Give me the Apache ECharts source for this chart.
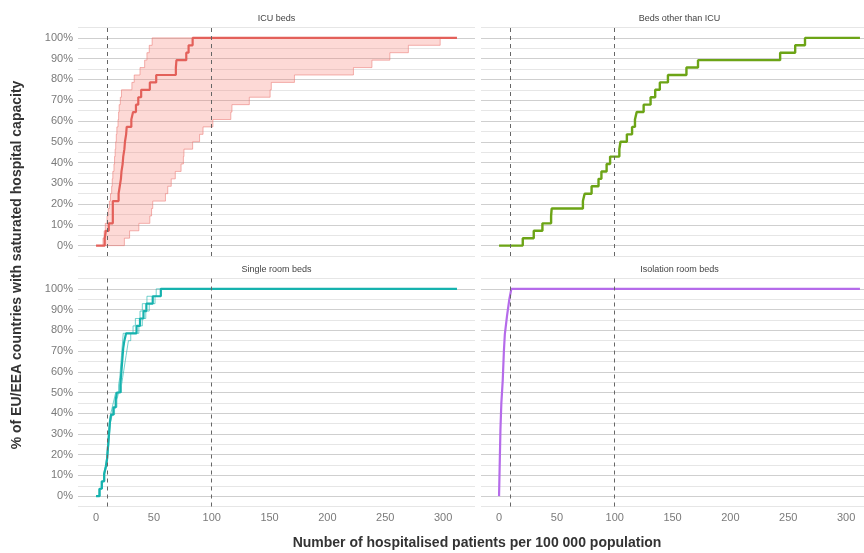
<!DOCTYPE html>
<html>
<head>
<meta charset="utf-8">
<script src="https://cdn.jsdelivr.net/npm/echarts@6/dist/echarts.min.js"></script>
<style>
html,body{margin:0;padding:0;background:#fff;}
#chart{width:864px;height:553px;}
</style>
</head>
<body>
<div id="chart"></div>
<script>
// ---------- data ----------
const panelTitles = ['ICU beds', 'Beds other than ICU', 'Single room beds', 'Isolation room beds'];
const xTickValues = [0, 50, 100, 150, 200, 250, 300];
const yTickValues = [0, 10, 20, 30, 40, 50, 60, 70, 80, 90, 100];
const refLines = [10, 100];

// ICU beds: central estimate (x = patients per 100 000, y = % of countries)
const icuX = [0, 7.5, 8.5, 11, 14.5, 14.5, 14.5, 19.5, 20.5, 21.5, 22, 23, 23.5, 24.5, 25, 26, 26.5, 30.5, 32, 34.5, 36.5, 39, 46.5, 52, 69, 69.5, 78, 80, 83.5, 312];
const icuY = [0, 3.57, 7.14, 10.71, 14.29, 17.86, 21.43, 25, 28.57, 32.14, 35.71, 39.29, 42.86, 46.43, 50, 53.57, 57.14, 60.71, 64.29, 67.86, 71.43, 75, 78.57, 82.14, 85.71, 89.29, 92.86, 96.43, 100, 100];
// ICU beds: uncertainty band, upper (left) edge
const icuUpperX = [5, 6, 7, 8, 9.5, 10.5, 11.5, 12.5, 13.5, 14, 14.5, 15.5, 16, 16.5, 17, 17.5, 18, 19, 19.5, 20, 21, 22, 31, 33, 38, 42, 44, 46, 48.5, 312];
const icuUpperY = [0, 3.57, 7.14, 10.71, 14.29, 17.86, 21.43, 25, 28.57, 32.14, 35.71, 39.29, 42.86, 46.43, 50, 53.57, 57.14, 60.71, 64.29, 67.86, 71.43, 75, 78.57, 82.14, 85.71, 89.29, 92.86, 96.43, 100, 100];
// ICU beds: uncertainty band, lower (right) edge
const icuLowerX = [5, 24.5, 29, 37, 46.5, 48, 49, 60, 62, 65, 68.5, 73.5, 75.5, 76, 83.5, 89.5, 92.5, 101, 116.5, 117.5, 132.5, 150.5, 151.5, 171.5, 222.5, 238.5, 254, 270, 297.5, 312];
const icuLowerY = [0, 3.57, 7.14, 10.71, 14.29, 17.86, 21.43, 25, 28.57, 32.14, 35.71, 39.29, 42.86, 46.43, 50, 53.57, 57.14, 60.71, 64.29, 67.86, 71.43, 75, 78.57, 82.14, 85.71, 89.29, 92.86, 96.43, 100, 100];

// Beds other than ICU
const otherX = [0, 20.5, 30, 37.5, 45, 45.5, 72.5, 74, 80, 86, 88.5, 93, 96, 104, 105, 110.5, 115, 117.5, 119, 125, 131, 135, 139, 146, 162, 172, 243, 256, 264.5, 312];
const otherY = [0, 3.57, 7.14, 10.71, 14.29, 17.86, 21.43, 25, 28.57, 32.14, 35.71, 39.29, 42.86, 46.43, 50, 53.57, 57.14, 60.71, 64.29, 67.86, 71.43, 75, 78.57, 82.14, 85.71, 89.29, 92.86, 96.43, 100, 100];

// Single room beds: central estimate and two thin variants
const singleX = [0, 3, 5, 7, 8.5, 9.5, 10, 10.5, 11, 11.5, 12, 13, 15, 17, 18, 21, 21.5, 22, 22.5, 23, 23.5, 24.5, 26, 35, 38, 41, 43.5, 49, 56, 312];
const singleY = [0, 3.57, 7.14, 10.71, 14.29, 17.86, 21.43, 25, 28.57, 32.14, 35.71, 39.29, 42.86, 46.43, 50, 53.57, 57.14, 60.71, 64.29, 67.86, 71.43, 75, 78.57, 82.14, 85.71, 89.29, 92.86, 96.43, 100, 100];
const singleAX = [0, 2.5, 4.5, 6.5, 8, 9, 9.5, 10, 10.5, 11, 11.5, 12.5, 14, 15.5, 17, 19.5, 20.5, 21, 21.5, 22, 22.5, 23, 23.5, 32, 34, 38, 40, 44, 52, 312];
const singleAY = [0, 3.57, 7.14, 10.71, 14.29, 17.86, 21.43, 25, 28.57, 32.14, 35.71, 39.29, 42.86, 46.43, 50, 53.57, 57.14, 60.71, 64.29, 67.86, 71.43, 75, 78.57, 82.14, 85.71, 89.29, 92.86, 96.43, 100, 100];
const singleBX = [0, 3.5, 5.5, 7.5, 9, 10, 10.5, 11, 11.5, 12, 12.5, 14, 16, 18, 19.5, 22, 23, 24, 25, 26, 27, 28, 30, 37, 40, 43, 46, 51, 56, 312];
const singleBY = [0, 3.57, 7.14, 10.71, 14.29, 17.86, 21.43, 25, 28.57, 32.14, 35.71, 39.29, 42.86, 46.43, 50, 53.57, 57.14, 60.71, 64.29, 67.86, 71.43, 75, 78.57, 82.14, 85.71, 89.29, 92.86, 96.43, 100, 100];

// Isolation room beds
const isoX = [0, 1.2, 2, 3.2, 4.2, 5, 6.9, 8.9, 10.6, 312];
const isoY = [0, 32, 45, 56, 70, 78, 87, 95, 100, 100];

// ---------- helpers ----------
const zip = (xs, ys) => xs.map((x, i) => [x, ys[i]]);
function stepVertices(xs, ys) {
  const out = [[xs[0], ys[0]]];
  for (let i = 1; i < xs.length; i++) {
    out.push([xs[i], ys[i - 1]]);
    out.push([xs[i], ys[i]]);
  }
  return out;
}

const COL_RED = '#E3605A';
const COL_GREEN = '#6CA416';
const COL_TEAL = '#16B2AE';
const COL_PURPLE = '#B56BEA';
const TICK_COL = '#7a7a7a';

// right-hand panels are cut by the picture's right edge
const grids = [
  { left: 78, top: 27.5, width: 397, height: 228.5 },
  { left: 481, top: 27.5, width: 383, height: 228.5 },
  { left: 78, top: 278.5, width: 397, height: 228 },
  { left: 481, top: 278.5, width: 383, height: 228 }
];
const xMin = -15.6;
const xMaxLeft = 327.6;
const xMaxRight = 315.5;

const xAxes = grids.map((g, i) => ({
  type: 'value', gridIndex: i, min: xMin, max: (i % 2 === 0 ? xMaxLeft : xMaxRight),
  axisLine: { show: false }, axisTick: { show: false }, splitLine: { show: false },
  axisLabel: {
    show: i >= 2, customValues: xTickValues, color: TICK_COL,
    fontSize: 11, fontFamily: 'Liberation Sans, Arial, sans-serif', margin: 6
  }
}));

const gridColors = [];
for (let v = -5; v <= 105; v += 5) gridColors.push(v % 10 === 0 ? '#cfcfcf' : '#e6e6e6');

const yAxes = grids.map((g, i) => ({
  type: 'value', gridIndex: i, min: -5, max: 105, interval: 5,
  axisLine: { show: false }, axisTick: { show: false },
  splitLine: { show: true, lineStyle: { color: gridColors, width: 1 } },
  axisLabel: {
    show: i % 2 === 0, color: TICK_COL, fontSize: 11, margin: 5,
    fontFamily: 'Liberation Sans, Arial, sans-serif',
    formatter: v => (yTickValues.indexOf(v) >= 0 ? v + '%' : '')
  }
}));

function refMarkLine() {
  return {
    silent: true, symbol: 'none', label: { show: false },
    lineStyle: { color: '#666', type: [4, 4], width: 1 },
    data: refLines.map(v => ({ xAxis: v }))
  };
}

function stepLine(idx, xs, ys, color, width, extra) {
  return Object.assign({
    type: 'line', xAxisIndex: idx, yAxisIndex: idx, step: 'end',
    data: zip(xs, ys), showSymbol: false, symbol: 'none',
    lineStyle: { color: color, width: width }, z: 3, animation: false
  }, extra || {});
}

const series = [
  // ICU ribbon
  {
    type: 'custom', xAxisIndex: 0, yAxisIndex: 0, animation: false, z: 2,
    data: [[0, 0]],
    encode: { x: 0, y: 1 },
    renderItem: function (params, api) {
      const up = stepVertices(icuUpperX, icuUpperY).map(p => api.coord(p));
      const lo = stepVertices(icuLowerX, icuLowerY).reverse().map(p => api.coord(p));
      return {
        type: 'polygon',
        shape: { points: up.concat(lo) },
        style: { fill: 'rgba(248,118,109,0.28)', stroke: 'rgba(235,120,115,0.55)', lineWidth: 1 }
      };
    }
  },
  stepLine(0, icuX, icuY, COL_RED, 2.2, { markLine: refMarkLine() }),
  stepLine(1, otherX, otherY, COL_GREEN, 2.4, { markLine: refMarkLine() }),
  stepLine(2, singleAX, singleAY, 'rgba(22,178,174,0.6)', 1),
  stepLine(2, singleBX, singleBY, 'rgba(22,178,174,0.6)', 1),
  stepLine(2, singleX, singleY, COL_TEAL, 2.2, { markLine: refMarkLine() }),
  {
    type: 'line', xAxisIndex: 3, yAxisIndex: 3, data: zip(isoX, isoY),
    showSymbol: false, symbol: 'none', smooth: false, animation: false, z: 3,
    lineStyle: { color: COL_PURPLE, width: 2.2 },
    markLine: refMarkLine()
  }
];

const stripCenters = [[276.5, 19], [679.5, 19], [276.5, 270], [679.5, 270]];
const graphics = panelTitles.map((t, i) => ({
  type: 'text', x: stripCenters[i][0], y: stripCenters[i][1],
  style: { text: t, fill: '#444', font: '9px "Liberation Sans", Arial, sans-serif', align: 'center', verticalAlign: 'middle' }
}));
graphics.push({
  type: 'text', x: 17, y: 265, rotation: Math.PI / 2,
  style: { text: '% of EU/EEA countries with saturated hospital capacity', fill: '#333',
    font: 'bold 14px "Liberation Sans", Arial, sans-serif', align: 'center', verticalAlign: 'middle' }
});
graphics.push({
  type: 'text', x: 477, y: 543,
  style: { text: 'Number of hospitalised patients per 100 000 population', fill: '#333',
    font: 'bold 14px "Liberation Sans", Arial, sans-serif', align: 'center', verticalAlign: 'middle' }
});

const chart = echarts.init(document.getElementById('chart'), null, { renderer: 'canvas' });
chart.setOption({
  backgroundColor: '#ffffff',
  animation: false,
  grid: grids,
  xAxis: xAxes,
  yAxis: yAxes,
  series: series,
  graphic: graphics
});
</script>
</body>
</html>
